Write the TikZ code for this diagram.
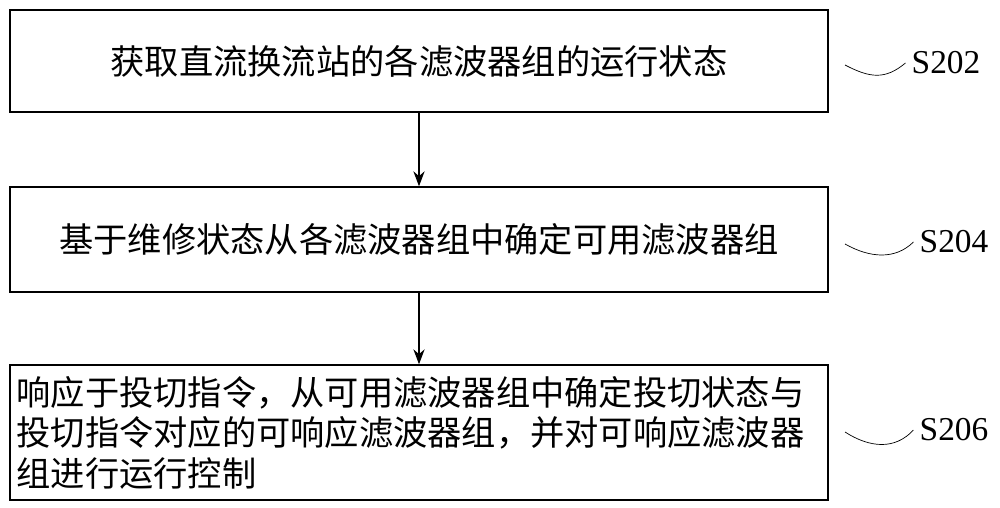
\documentclass[tikz,border=0pt]{standalone}
\usepackage{fontspec}
\setmainfont{Liberation Serif}
\newfontfamily\cjk{Noto Sans CJK SC}
\usetikzlibrary{positioning,arrows.meta}
\begin{document}
\begin{tikzpicture}[x=0.02cm,y=-0.02cm,
  stepbox/.style={draw,thick,minimum width=818*0.02cm,font=\cjk\fontsize{19.5}{23}\selectfont},
  arr/.style={-{Stealth[length=3mm]},thick}]
\useasboundingbox (0,0) rectangle (1000,507);
\node[stepbox,minimum height=102*0.02cm] (s1) at (419,61) {获取直流换流站的各滤波器组的运行状态};
\node[stepbox,minimum height=105*0.02cm] (s2) at (419,239.5) {基于维修状态从各滤波器组中确定可用滤波器组};
\node[stepbox,minimum height=135*0.02cm,align=left,text width=805*0.02cm,inner sep=3pt] (s3) at (419,432.5) {响应于投切指令，从可用滤波器组中确定投切状态与\\投切指令对应的可响应滤波器组，并对可响应滤波器\\组进行运行控制};
\draw[arr] (s1) -- (s2);
\draw[arr] (s2) -- (s3);
% step labels
\node[font=\fontsize{19}{22}\selectfont] (l1) at (946,63) {S202};
\node[font=\fontsize{19}{22}\selectfont] (l2) at (954,242) {S204};
\node[font=\fontsize{19}{22}\selectfont] (l3) at (954,430) {S206};
\draw (845,65) .. controls (870,78) and (885,80) .. (l1.west);
\draw (845,244) .. controls (870,258) and (895,260) .. (l2.west);
\draw (845,432) .. controls (870,448) and (895,450) .. (l3.west);
\end{tikzpicture}
\end{document}
